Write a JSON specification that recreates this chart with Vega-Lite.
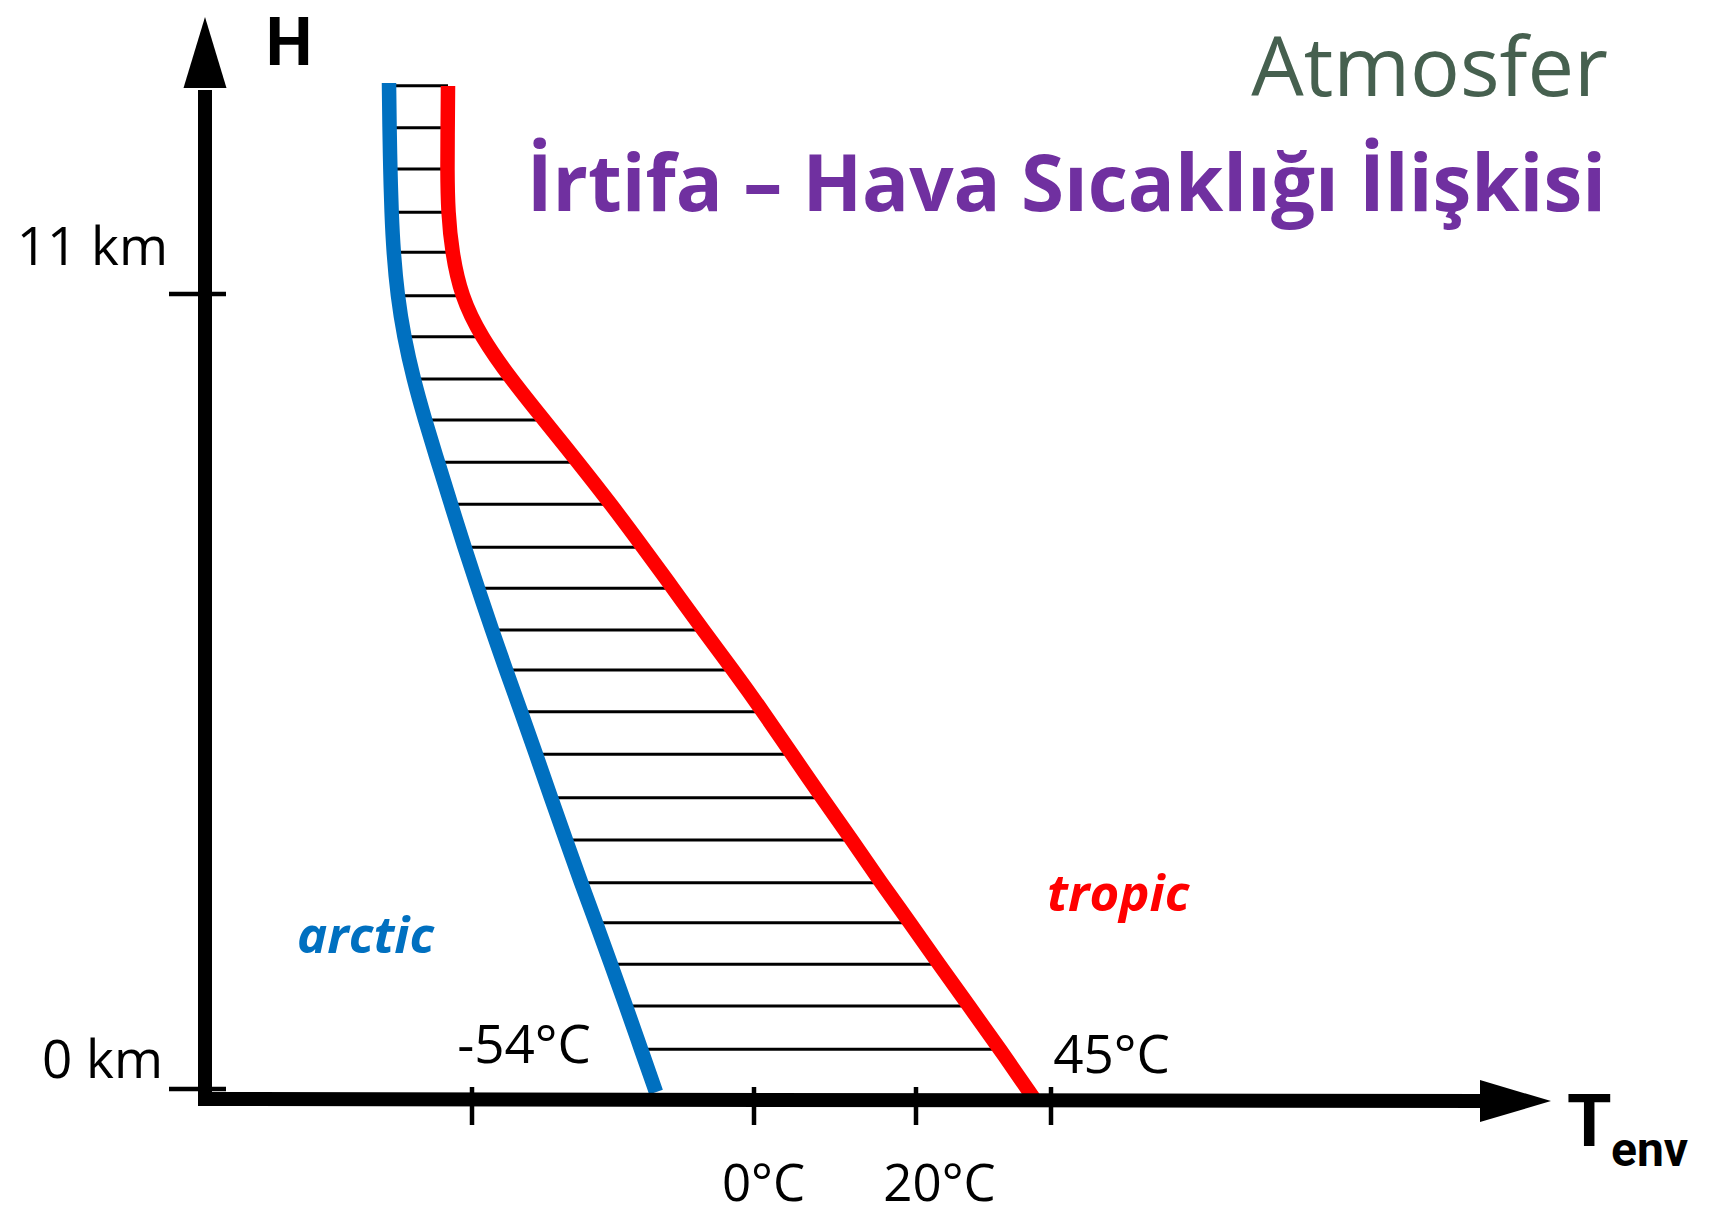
{
  "$schema": "https://vega.github.io/schema/vega-lite/v6.json",
  "width": 1711,
  "height": 1216,
  "autosize": "none",
  "padding": 0,
  "background": "#ffffff",
  "config": {"view": {"stroke": null}},
  "datasets": {
    "blue": [
      {"x": 389, "h": 13.92}, {"x": 389.5, "h": 13.302}, {"x": 390.3, "h": 12.73}, {"x": 391.5, "h": 12.131},
      {"x": 393.5, "h": 11.578}, {"x": 397.5, "h": 10.977}, {"x": 404, "h": 10.41}, {"x": 413.5, "h": 9.824},
      {"x": 425, "h": 9.257}, {"x": 438, "h": 8.672}, {"x": 451, "h": 8.091}, {"x": 464.5, "h": 7.496},
      {"x": 478, "h": 6.928}, {"x": 492, "h": 6.351}, {"x": 506, "h": 5.798}, {"x": 521, "h": 5.221},
      {"x": 536, "h": 4.631}, {"x": 551, "h": 4.031}, {"x": 566, "h": 3.445}, {"x": 581, "h": 2.855},
      {"x": 596, "h": 2.301}, {"x": 611, "h": 1.725}, {"x": 626, "h": 1.148}, {"x": 641, "h": 0.549},
      {"x": 656, "h": -0.042}
    ],
    "red": [
      {"x": 448, "h": 13.879}, {"x": 447.7, "h": 13.302}, {"x": 447.3, "h": 12.73}, {"x": 448, "h": 12.131},
      {"x": 452, "h": 11.578}, {"x": 461, "h": 10.977}, {"x": 481, "h": 10.41}, {"x": 511, "h": 9.824},
      {"x": 544, "h": 9.257}, {"x": 578, "h": 8.672}, {"x": 611, "h": 8.091}, {"x": 643, "h": 7.496},
      {"x": 673, "h": 6.928}, {"x": 703, "h": 6.351}, {"x": 733, "h": 5.798}, {"x": 763, "h": 5.221},
      {"x": 792, "h": 4.631}, {"x": 822, "h": 4.031}, {"x": 852, "h": 3.445}, {"x": 881, "h": 2.855},
      {"x": 910, "h": 2.301}, {"x": 939, "h": 1.725}, {"x": 969, "h": 1.148}, {"x": 1000, "h": 0.549},
      {"x": 1035, "h": -0.152}
    ],
    "hatch": [
      {"x": 389, "x2": 448, "h": 13.883}, {"x": 389.5, "x2": 447.7, "h": 13.302}, {"x": 390.3, "x2": 447.3, "h": 12.73},
      {"x": 391.5, "x2": 448, "h": 12.131}, {"x": 393.5, "x2": 452, "h": 11.578}, {"x": 397.5, "x2": 461, "h": 10.977},
      {"x": 404, "x2": 481, "h": 10.41}, {"x": 413.5, "x2": 511, "h": 9.824}, {"x": 425, "x2": 544, "h": 9.257},
      {"x": 438, "x2": 578, "h": 8.672}, {"x": 451, "x2": 611, "h": 8.091}, {"x": 464.5, "x2": 643, "h": 7.496},
      {"x": 478, "x2": 673, "h": 6.928}, {"x": 492, "x2": 703, "h": 6.351}, {"x": 506, "x2": 733, "h": 5.798},
      {"x": 521, "x2": 763, "h": 5.221}, {"x": 536, "x2": 792, "h": 4.631}, {"x": 551, "x2": 822, "h": 4.031},
      {"x": 566, "x2": 852, "h": 3.445}, {"x": 581, "x2": 881, "h": 2.855}, {"x": 596, "x2": 910, "h": 2.301},
      {"x": 611, "x2": 939, "h": 1.725}, {"x": 626, "x2": 969, "h": 1.148}, {"x": 641, "x2": 1000, "h": 0.549}
    ],
    "shafts": [
      {"x": 205, "x2": 205, "h": -0.235, "h2": 13.823},
      {"x": 198, "x2": 1485, "h": -0.138, "h2": -0.166}
    ],
    "ticks": [
      {"x": 169, "x2": 226, "h": 11, "h2": 11},
      {"x": 169, "x2": 226, "h": 0, "h2": 0},
      {"x": 472, "x2": 472, "h": 0.028, "h2": -0.498},
      {"x": 754, "x2": 754, "h": 0.028, "h2": -0.498},
      {"x": 916, "x2": 916, "h": 0.028, "h2": -0.498},
      {"x": 1051, "x2": 1051, "h": 0.028, "h2": -0.498}
    ]
  },
  "encoding": {
    "x": {"field": "x", "type": "quantitative", "scale": {"domain": [0, 1711], "nice": false, "zero": false}, "axis": null},
    "y": {"field": "h", "type": "quantitative", "scale": {"domain": [-1.757, 15.069], "nice": false, "zero": false}, "axis": null}
  },
  "layer": [
    {
      "data": {"name": "hatch"},
      "mark": {"type": "rule", "color": "#000000", "strokeWidth": 3},
      "encoding": {"x2": {"field": "x2"}}
    },
    {
      "data": {"name": "blue"},
      "mark": {"type": "line", "color": "#0070C0", "strokeWidth": 14.5, "interpolate": "basis", "strokeCap": "butt"},
      "encoding": {"order": {"field": "h", "sort": "descending"}}
    },
    {
      "data": {"name": "red"},
      "mark": {"type": "line", "color": "#FF0000", "strokeWidth": 14.5, "interpolate": "basis", "strokeCap": "butt"},
      "encoding": {"order": {"field": "h", "sort": "descending"}}
    },
    {
      "data": {"name": "shafts"},
      "mark": {"type": "rule", "color": "#000000", "strokeWidth": 14, "strokeCap": "butt"},
      "encoding": {"x2": {"field": "x2"}, "y2": {"field": "h2"}}
    },
    {
      "data": {"name": "ticks"},
      "mark": {"type": "rule", "color": "#000000", "strokeWidth": 4.5, "strokeCap": "butt"},
      "encoding": {"x2": {"field": "x2"}, "y2": {"field": "h2"}}
    },
    {
      "data": {"values": [{"x": 205, "h": 14.342}]},
      "mark": {"type": "point", "shape": "M0,-1L0.6056,1L-0.6056,1Z", "size": 5041, "filled": true, "color": "#000000", "opacity": 1, "strokeWidth": 0}
    },
    {
      "data": {"values": [{"x": 1515.5, "h": -0.166}]},
      "mark": {"type": "point", "shape": "M1,0L-1,-0.5915L-1,0.5915Z", "size": 5041, "filled": true, "color": "#000000", "opacity": 1, "strokeWidth": 0}
    },
    {
      "data": {"values": [{"label": "H", "x": 289, "h": 14.17}]},
      "mark": {"type": "text", "font": "Roboto", "fontWeight": "bold", "fontSize": 66, "align": "center", "baseline": "alphabetic", "color": "#000000"},
      "encoding": {"text": {"field": "label"}}
    },
    {
      "data": {"values": [{"label": "T", "x": 1567, "h": -0.789}]},
      "mark": {"type": "text", "font": "Roboto", "fontWeight": "bold", "fontSize": 72, "align": "left", "baseline": "alphabetic", "color": "#000000"},
      "encoding": {"text": {"field": "label"}}
    },
    {
      "data": {"values": [{"label": "env", "x": 1611, "h": -1.065}]},
      "mark": {"type": "text", "font": "Roboto", "fontWeight": "bold", "fontSize": 48, "align": "left", "baseline": "alphabetic", "color": "#000000"},
      "encoding": {"text": {"field": "label"}}
    },
    {
      "data": {"values": [{"label": "Atmosfer", "x": 1608, "h": 13.74}]},
      "mark": {"type": "text", "font": "Open Sans", "fontSize": 83, "align": "right", "baseline": "alphabetic", "color": "#46604F"},
      "encoding": {"text": {"field": "label"}}
    },
    {
      "data": {"values": [{"label": "İrtifa – Hava Sıcaklığı İlişkisi", "x": 1606, "h": 12.149}]},
      "mark": {"type": "text", "font": "Open Sans", "fontWeight": "bold", "fontSize": 78, "align": "right", "baseline": "alphabetic", "color": "#7030A0"},
      "encoding": {"text": {"field": "label"}}
    },
    {
      "data": {"values": [{"label": "11 km", "x": 168, "h": 11.402}, {"label": "0 km", "x": 163, "h": 0.152}]},
      "mark": {"type": "text", "font": "Open Sans", "fontSize": 53, "align": "right", "baseline": "alphabetic", "color": "#000000"},
      "encoding": {"text": {"field": "label"}}
    },
    {
      "data": {"values": [
        {"label": "-54°C", "x": 524, "h": 0.36},
        {"label": "45°C", "x": 1111.5, "h": 0.221}
      ]},
      "mark": {"type": "text", "font": "Open Sans", "fontSize": 53, "align": "center", "baseline": "alphabetic", "color": "#000000"},
      "encoding": {"text": {"field": "label"}}
    },
    {
      "data": {"values": [
        {"label": "0°C", "x": 763.5, "h": -1.55},
        {"label": "20°C", "x": 939.5, "h": -1.55}
      ]},
      "mark": {"type": "text", "font": "Open Sans", "fontSize": 51, "align": "center", "baseline": "alphabetic", "color": "#000000"},
      "encoding": {"text": {"field": "label"}}
    },
    {
      "data": {"values": [{"label": "arctic", "x": 297, "h": 1.882}]},
      "mark": {"type": "text", "font": "Open Sans", "fontWeight": "bold", "fontStyle": "italic", "fontSize": 51, "align": "left", "baseline": "alphabetic", "color": "#0070C0"},
      "encoding": {"text": {"field": "label"}}
    },
    {
      "data": {"values": [{"label": "tropic", "x": 1047, "h": 2.463}]},
      "mark": {"type": "text", "font": "Open Sans", "fontWeight": "bold", "fontStyle": "italic", "fontSize": 51, "align": "left", "baseline": "alphabetic", "color": "#FF0000"},
      "encoding": {"text": {"field": "label"}}
    }
  ]
}
